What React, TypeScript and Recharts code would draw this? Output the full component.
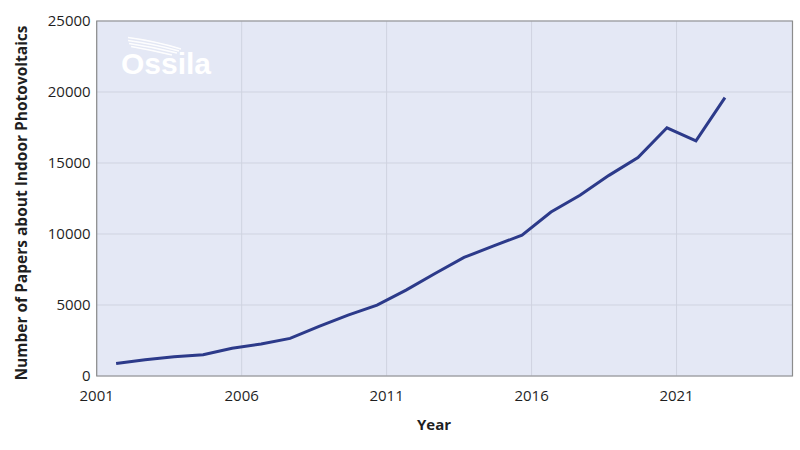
import React from 'react';
import { LineChart, Line, XAxis, YAxis, CartesianGrid, ReferenceArea } from 'recharts';

// publication year and number of papers per year
const years = [2002, 2003, 2004, 2005, 2006, 2007, 2008, 2009, 2010, 2011, 2012, 2013, 2014, 2015, 2016, 2017, 2018, 2019, 2020, 2021, 2022, 2023];
const papers = [880, 1150, 1350, 1500, 1950, 2250, 2650, 3500, 4290, 4990, 6050, 7220, 8350, 9140, 9920, 11550, 12730, 14130, 15380, 17480, 16560, 19600];

const xTicks = [2001, 2006, 2011, 2016, 2021];
const yTicks = [0, 5000, 10000, 15000, 20000, 25000];

// the source plots each year about a third of a year left of its tick
const YEAR_SHIFT = 0.33;

const data = years.map((year, i) => ({ year, x: year - YEAR_SHIFT, papers: papers[i] }));

const FONT = '"Open Sans", sans-serif';
const TICK = { fontSize: 15, fill: '#1f1f1f', fontFamily: FONT };

const YLabel = () => (
    <text
        x={21}
        y={203}
        transform="rotate(-90, 21, 203)"
        textAnchor="middle"
        dominantBaseline="central"
        style={{ fontFamily: FONT, fontSize: 15.5, fontWeight: 700, fill: '#1f1f1f' }}
    >
        Number of Papers about Indoor Photovoltaics
    </text>
);

const XLabel = () => (
    <text
        x={434}
        y={424}
        textAnchor="middle"
        dominantBaseline="central"
        style={{ fontFamily: FONT, fontSize: 15, fontWeight: 700, fill: '#1f1f1f' }}
    >
        Year
    </text>
);

const Logo = () => (
    <svg width={800} height={450} style={{ position: 'absolute', left: 0, top: 0, pointerEvents: 'none' }}>
        <g stroke="#ffffff" strokeWidth={1.5} fill="none" opacity={0.95}>
            <path d="M128 37.5 Q155 41 181 49" />
            <path d="M128 40.5 Q154 44 179 51" />
            <path d="M129 43.5 Q153 47 177 53" />
            <path d="M131 46.5 Q151 50 172 55" />
        </g>
        <text x={121} y={73.5} style={{ fontFamily: '"Liberation Sans", Arial, sans-serif', fontSize: 30, fontWeight: 700, fill: '#ffffff' }}>
            Ossila
        </text>
    </svg>
);

export default function App() {
    return (
        <div style={{ position: 'absolute', left: 0, top: 0, width: 800, height: 450, background: '#ffffff' }}>
            <LineChart width={800} height={450} data={data} margin={{ top: 21, right: 7.5, bottom: 44, left: 0 }}>
                <CartesianGrid stroke="#cfd3e0" fill="#e4e8f5" strokeWidth={1} />
                <XAxis
                    dataKey="x"
                    type="number"
                    domain={[2001, 2025]}
                    ticks={xTicks}
                    height={30}
                    tick={TICK}
                    tickSize={0}
                    tickMargin={14}
                    axisLine={false}
                    tickLine={false}
                    label={<XLabel />}
                />
                <YAxis
                    type="number"
                    domain={[0, 25000]}
                    ticks={yTicks}
                    width={96.7}
                    tick={TICK}
                    tickSize={0}
                    tickMargin={6}
                    axisLine={false}
                    tickLine={false}
                    label={<YLabel />}
                />
                <ReferenceArea x1={2001} x2={2025} y1={0} y2={25000} fill="none" stroke="#8c8c8c" strokeWidth={1.2} ifOverflow="visible" />
                <Line
                    type="linear"
                    dataKey="papers"
                    stroke="#2c3a8a"
                    strokeWidth={3}
                    dot={false}
                    isAnimationActive={false}
                />
            </LineChart>
            <Logo />
        </div>
    );
}
